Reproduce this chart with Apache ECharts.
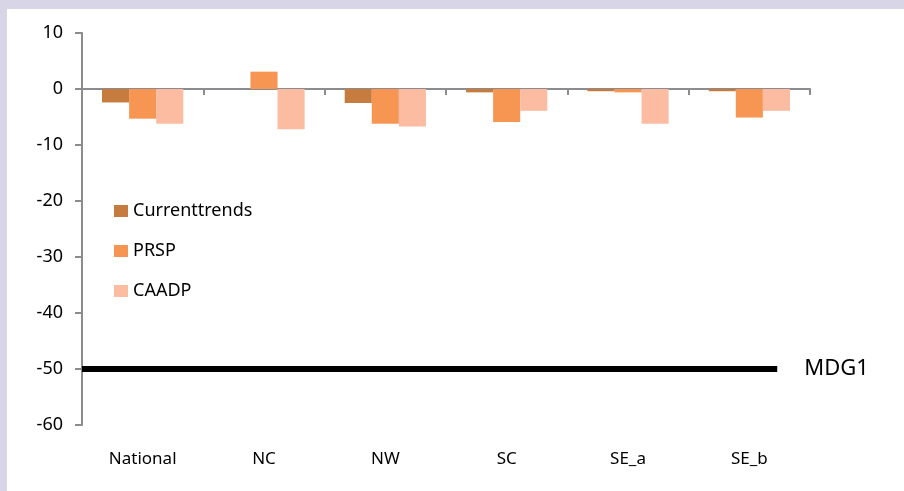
<!DOCTYPE html>
<html>
<head>
<meta charset="utf-8">
<script src="https://cdn.jsdelivr.net/npm/echarts@6/dist/echarts.min.js"></script>
<style>
	html, body { margin: 0; padding: 0; background: #d8d6e6; }
	#chart { position: absolute; left: 7px; top: 9px; width: 897px; height: 482px; background: #fff; }
</style>
</head>
<body>
<div id="chart"></div>
<script>
var regions = ["National", "NC", "NW", "SC", "SE_a", "SE_b"];
var currentTrends = [-2.4, 0, -2.5, -0.6, -0.4, -0.4];
var prsp = [-5.3, 3.1, -6.2, -5.9, -0.6, -5.1];
var caadp = [-6.2, -7.2, -6.7, -3.9, -6.2, -3.9];
// MDG1 target line, start and end along the categories
var mdgLine = [[0, -50], [5.73, -50]];

var font = "'Noto Sans', 'Open Sans', sans-serif";
var axisGray = "#8c8c90";

var myChart = echarts.init(document.getElementById('chart'));

var option = {
	animation: false,
	textStyle: { fontFamily: font },
	grid: { left: 75, top: 24, right: 94, bottom: 66 },
	legend: {
		orient: "vertical",
		left: 102,
		top: 188,
		itemWidth: 14,
		itemHeight: 12,
		itemGap: 22,
		icon: "rect",
		data: ["Currenttrends", "PRSP", "CAADP"],
		textStyle: { fontSize: 18, color: "#000", fontFamily: font }
	},
	xAxis: [{
		type: "category",
		data: regions,
		axisLine: { onZero: true, lineStyle: { color: axisGray, width: 2 } },
		axisTick: { show: true, length: 6, lineStyle: { color: axisGray, width: 2 } },
		axisLabel: { show: false }
	}, {
		type: "category",
		data: regions,
		position: "bottom",
		axisLine: { show: false, onZero: false },
		axisTick: { show: false },
		axisLabel: { margin: 26, fontSize: 17, color: "#000", fontFamily: font }
	}, {
		type: "value",
		min: 0,
		max: 6,
		show: false
	}],
	yAxis: {
		type: "value",
		min: -60,
		max: 10,
		interval: 10,
		axisLine: { show: true, lineStyle: { color: axisGray, width: 2 } },
		axisTick: { show: true, length: 7, lineStyle: { color: axisGray, width: 2 } },
		axisLabel: { margin: 19, fontSize: 18, color: "#000", fontFamily: font },
		splitLine: { show: false }
	},
	series: [{
		name: "Currenttrends",
		type: "bar",
		data: currentTrends,
		barGap: "0%",
		barCategoryGap: "33%",
		itemStyle: { color: "#c77c3f" }
	}, {
		name: "PRSP",
		type: "bar",
		data: prsp,
		itemStyle: { color: "#f79552" }
	}, {
		name: "CAADP",
		type: "bar",
		data: caadp,
		itemStyle: { color: "#fbbca1" }
	}, {
		name: "MDG1",
		type: "line",
		xAxisIndex: 2,
		data: mdgLine,
		symbol: "none",
		lineStyle: { color: "#000", width: 6 },
		endLabel: {
			show: true,
			formatter: "MDG1",
			distance: 27,
			fontSize: 22,
			color: "#000",
			fontFamily: font
		}
	}]
};
myChart.setOption(option);
</script>
</body>
</html>
